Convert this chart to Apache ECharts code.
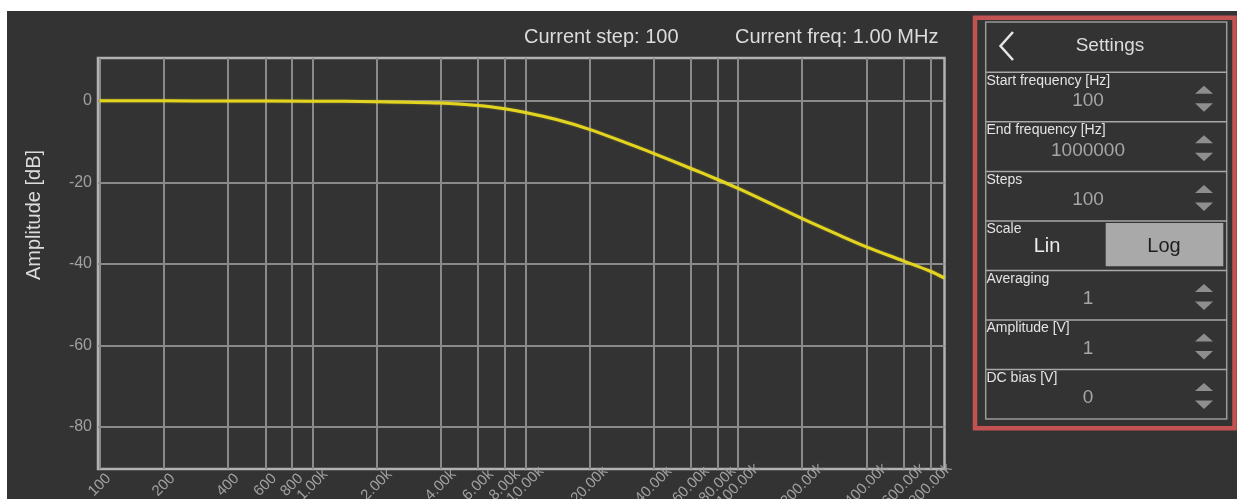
<!DOCTYPE html>
<html>
<head>
<meta charset="utf-8">
<title>Frequency response</title>
<script src="https://cdn.jsdelivr.net/npm/echarts@6/dist/echarts.min.js"></script>
<style>
  html, body { margin: 0; padding: 0; background: #ffffff; }
  #chart { width: 1237px; height: 499px; }
</style>
</head>
<body>
<div id="chart"></div>
<script>
// Measured sweep: frequency [Hz] and amplitude [dB]
const freqHz = [100, 200, 400, 1000, 2000, 4000, 6000, 8000, 10000, 14000, 20000, 30000,
  40000, 60000, 80000, 100000, 150000, 200000, 300000, 400000, 600000, 800000, 932000];
const ampDb = [0.0, 0.0, -0.05, -0.1, -0.2, -0.55, -1.15, -1.95, -2.85, -4.6, -7.0, -10.4,
  -12.9, -16.6, -19.3, -21.5, -25.8, -28.9, -33.0, -35.8, -39.3, -41.8, -43.5];

// Axis ticks
const xTicks = [100, 200, 400, 600, 800, 1000, 2000, 4000, 6000, 8000, 10000, 20000,
  40000, 60000, 80000, 100000, 200000, 400000, 600000, 800000];
const yTicks = [-80, -60, -40, -20, 0];

// Header readouts
const stepText = 'Current step: 100';
const freqText = 'Current freq: 1.00 MHz';

// Settings panel
const settingLabels = ['Start frequency [Hz]', 'End frequency [Hz]', 'Steps', 'Scale',
  'Averaging', 'Amplitude [V]', 'DC bias [V]'];
const settingValues = ['100', '1000000', '100', null, '1', '1', '0'];
const scaleOptions = ['Lin', 'Log'];
const panelTitle = 'Settings';

const FONT = '"Liberation Sans", Arial, sans-serif';
const BG = '#333333';

function fmtFreq(v) {
  if (v < 1000) return String(v);
  return (v / 1000).toFixed(2) + 'k';
}

function txt(text, x, y, size, fill, align, valign, extra) {
  return Object.assign({
    type: 'text', x: x, y: y, silent: true,
    style: {
      text: text, fill: fill, fontSize: size, fontFamily: FONT,
      align: align, textAlign: align, verticalAlign: valign, textVerticalAlign: valign
    }
  }, extra || {});
}

// Panel graphics
const graphics = [];
// page margins
graphics.push({ type: 'rect', shape: { x: 0, y: 0, width: 1237, height: 11 }, style: { fill: '#ffffff' }, z: 100 });
graphics.push({ type: 'rect', shape: { x: 0, y: 0, width: 7, height: 499 }, style: { fill: '#ffffff' }, z: 100 });
// right edge of the plot canvas clips the last tick label
graphics.push({ type: 'rect', shape: { x: 958, y: 472, width: 14, height: 27 }, style: { fill: BG }, z: 90 });

graphics.push(txt(stepText, 524, 37, 20, '#dcdcdc', 'left', 'middle'));
graphics.push(txt(freqText, 735, 37, 20, '#dcdcdc', 'left', 'middle'));
graphics.push({
  type: 'text', x: 34, y: 215, rotation: Math.PI / 2, silent: true,
  style: { text: 'Amplitude [dB]', fill: '#dcdcdc', fontSize: 20, fontFamily: FONT,
    align: 'center', textAlign: 'center', verticalAlign: 'middle', textVerticalAlign: 'middle' }
});

// outer highlight frame
graphics.push({ type: 'rect', shape: { x: 975, y: 17.8, width: 259.5, height: 410.5 },
  style: { fill: 'none', stroke: '#c25352', lineWidth: 4.5 } });
// inner box
const boxL = 985.7, boxR = 1226.7, boxT = 22, boxB = 419;
graphics.push({ type: 'rect', shape: { x: boxL, y: boxT, width: boxR - boxL, height: boxB - boxT },
  style: { fill: 'none', stroke: '#9a9a9a', lineWidth: 1.5 } });
// header
graphics.push({ type: 'polyline', shape: { points: [[1013, 32], [1000.5, 46], [1013, 60]] },
  style: { stroke: '#e6e6e6', lineWidth: 2.5, fill: 'none' } });
graphics.push(txt(panelTitle, 1110, 46, 19, '#dcdcdc', 'center', 'middle'));

const rowTop0 = 72.3, rowH = 49.55;
settingLabels.forEach(function (label, i) {
  const top = rowTop0 + i * rowH;
  graphics.push({ type: 'line', shape: { x1: boxL, y1: top, x2: boxR, y2: top },
    style: { stroke: '#a8a8a8', lineWidth: 1.5 } });
  graphics.push(txt(label, 986.5, top + 8.5, 14, '#e4e4e4', 'left', 'middle'));
  const val = settingValues[i];
  if (val !== null) {
    graphics.push(txt(val, 1088, top + 28.5, 19, '#a6a6a6', 'center', 'middle'));
    graphics.push({ type: 'polygon', shape: { points: [[1195, top + 21.5], [1204, top + 13.5], [1213, top + 21.5]] },
      style: { fill: '#8e8e8e' } });
    graphics.push({ type: 'polygon', shape: { points: [[1195, top + 31], [1213, top + 31], [1204, top + 39.5]] },
      style: { fill: '#8e8e8e' } });
  } else {
    graphics.push({ type: 'rect', shape: { x: 1105.7, y: top + 2, width: 117.6, height: 43.3 },
      style: { fill: '#a9a9a9' } });
    graphics.push(txt(scaleOptions[0], 1047, top + 26, 20, '#ececec', 'center', 'middle'));
    graphics.push(txt(scaleOptions[1], 1164, top + 26, 20, '#1e1e1e', 'center', 'middle'));
  }
});

const chart = echarts.init(document.getElementById('chart'), null, { renderer: 'canvas' });
chart.setOption({
  backgroundColor: BG,
  animation: false,
  grid: {
    left: 98, top: 58, width: 846.5, height: 411,
    show: true, borderColor: '#b2b2b2', borderWidth: 2.5, backgroundColor: 'transparent',
    containLabel: false, outerBoundsMode: 'none'
  },
  xAxis: {
    type: 'log', logBase: 10, min: 98.2, max: 932000,
    axisLine: { show: false },
    axisTick: { show: false, customValues: xTicks },
    axisLabel: {
      customValues: xTicks, rotate: 45, align: 'center', verticalAlign: 'middle',
      margin: 16, color: '#a0a0a0', fontSize: 15, fontFamily: FONT, hideOverlap: false,
      formatter: function (v) { return fmtFreq(v); }
    },
    splitLine: { show: true, lineStyle: { color: '#8a8a8a', width: 2 } }
  },
  yAxis: {
    type: 'value', min: -90.3, max: 10.5,
    axisLine: { show: false },
    axisTick: { show: false, customValues: yTicks },
    axisLabel: { customValues: yTicks, margin: 6, color: '#a0a0a0', fontSize: 16, fontFamily: FONT },
    splitLine: { show: true, lineStyle: { color: '#8a8a8a', width: 2 } }
  },
  graphic: graphics,
  series: [{
    type: 'line',
    data: freqHz.map(function (f, i) { return [f, ampDb[i]]; }),
    showSymbol: false,
    smooth: 0.35,
    clip: true,
    lineStyle: { color: '#e3d41f', width: 3, shadowColor: 'rgba(230,214,30,0.45)', shadowBlur: 2 }
  }]
});
</script>
</body>
</html>
